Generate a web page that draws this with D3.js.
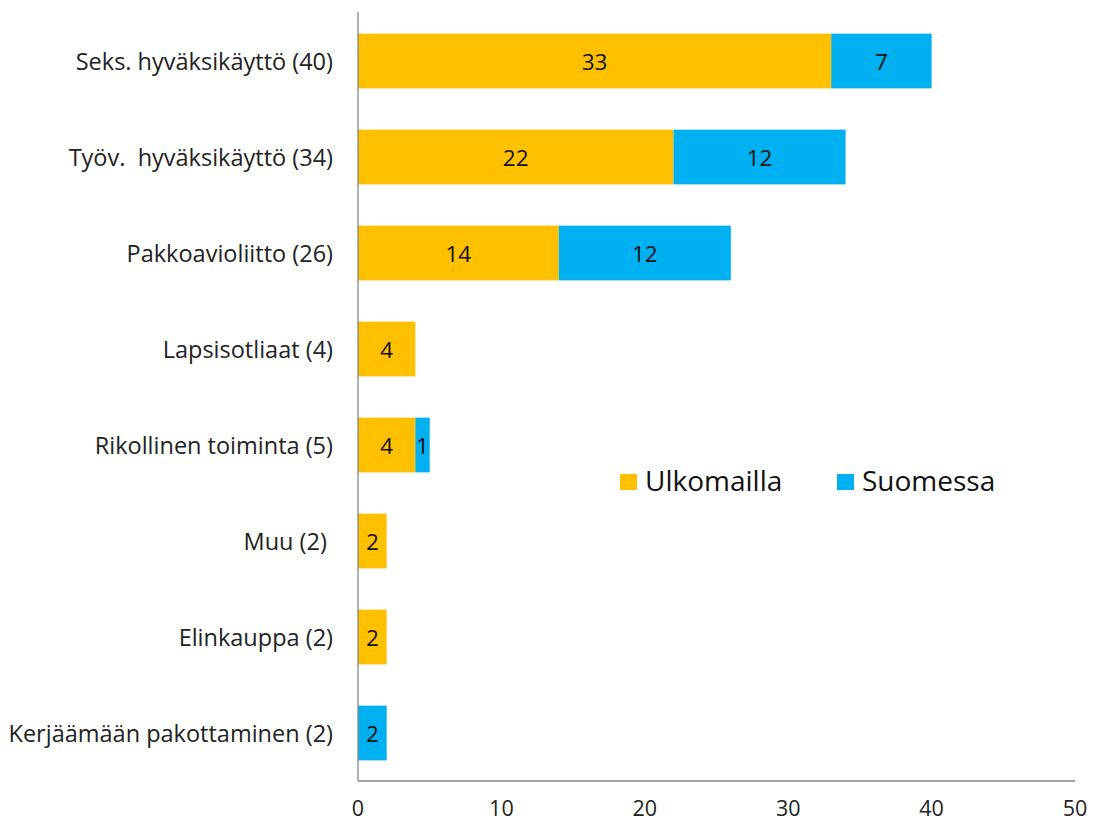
<!DOCTYPE html>
<html><head><meta charset="utf-8">
<script src="https://cdn.jsdelivr.net/npm/d3@7/dist/d3.min.js"></script>
<style>body{margin:0;background:#fff}text{font-family:"Open Sans",sans-serif;white-space:pre}</style>
</head><body><svg id="c" width="1099" height="827"></svg>
<script>
const categories = ["Seks. hyväksikäyttö (40)","Työv.  hyväksikäyttö (34)","Pakkoavioliitto (26)","Lapsisotliaat (4)","Rikollinen toiminta (5)","Muu (2) ","Elinkauppa (2)","Kerjäämään pakottaminen (2)"];
const ulkomailla = [33,22,14,4,4,2,2,0];
const suomessa = [7,12,12,0,1,0,0,2];
const seriesNames = ["Ulkomailla","Suomessa"];
const colors = ["#FFC000","#00B0F0"];
const xTicks = [0,10,20,30,40,50];

(function(){
const svg = d3.select("#c");
const pl=358, pr=1075, pt=13, pb=781;
const x = d3.scaleLinear().domain([0,50]).range([pl,pr]);
const y = d3.scaleBand().domain(categories).range([pt,pb]).paddingInner(0.43).paddingOuter(0.215);

const rows = categories.map((c,i)=>({cat:c, Ulkomailla:ulkomailla[i], Suomessa:suomessa[i]}));
const stack = d3.stack().keys(seriesNames)(rows);

stack.forEach((s,si)=>{
  const g = svg.append("g");
  s.forEach(d=>{
    const v = d[1]-d[0];
    if(v<=0) return;
    g.append("rect").attr("x",x(d[0])).attr("y",y(d.data.cat)).attr("width",x(d[1])-x(d[0])).attr("height",y.bandwidth()).attr("fill",colors[si]);
    g.append("text").attr("x",(x(d[0])+x(d[1]))/2).attr("y",y(d.data.cat)+y.bandwidth()/2+1.5).attr("dy","0.35em")
      .attr("text-anchor","middle").attr("font-size",22.5).attr("fill","#111").text(v);
  });
});

svg.append("line").attr("x1",pl).attr("x2",pl).attr("y1",12).attr("y2",pb).attr("stroke","#868686").attr("stroke-width",1.3);
svg.append("line").attr("x1",pl).attr("x2",pr).attr("y1",pb).attr("y2",pb).attr("stroke","#868686").attr("stroke-width",1.3);

svg.selectAll(".cl").data(categories).enter().append("text")
  .attr("x",333).attr("y",d=>y(d)+y.bandwidth()/2+1).attr("dy","0.35em").attr("text-anchor","end")
  .attr("font-size",23.5).attr("fill","#222").text(d=>d);

svg.selectAll(".xt").data(xTicks).enter().append("text")
  .attr("x",d=>x(d)).attr("y",808).attr("dy","0.35em").attr("text-anchor","middle")
  .attr("font-size",21.5).attr("fill","#222").text(d=>d);

const lg = [{n:seriesNames[0],c:colors[0],x:620},{n:seriesNames[1],c:colors[1],x:837}];
lg.forEach(l=>{
  svg.append("rect").attr("x",l.x).attr("y",474).attr("width",17).attr("height",16).attr("fill",l.c);
  svg.append("text").attr("x",l.x+25).attr("y",481).attr("dy","0.35em").attr("font-size",28).attr("fill","#111").text(l.n);
});
})();
</script></body></html>
